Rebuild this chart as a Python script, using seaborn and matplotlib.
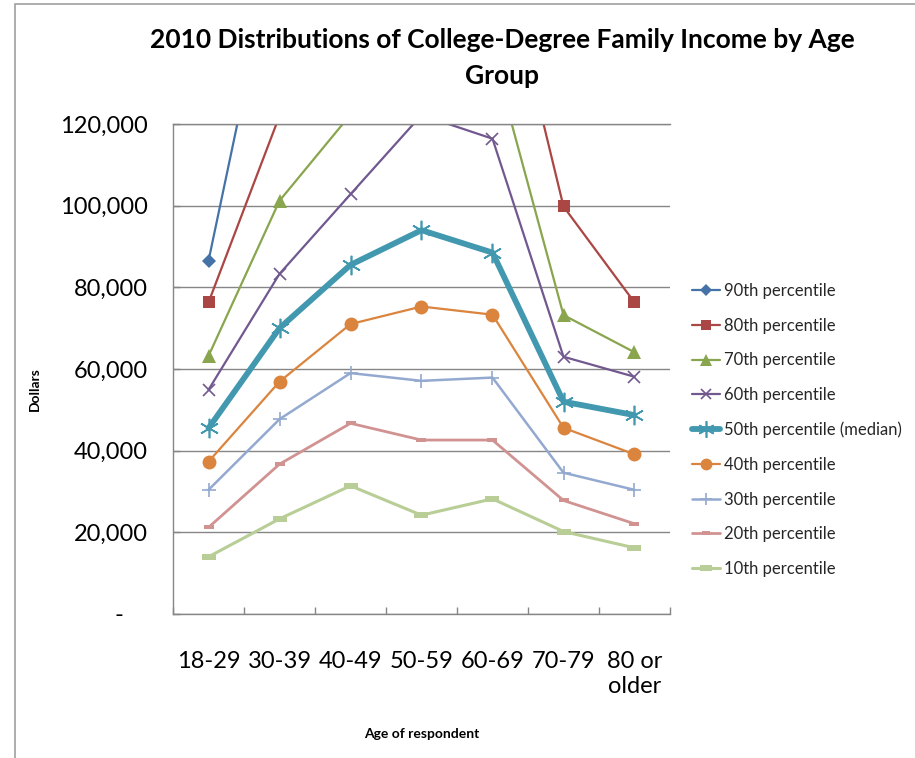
import matplotlib
matplotlib.use("Agg")
import matplotlib.pyplot as plt
from matplotlib.patches import Rectangle
from matplotlib.ticker import FuncFormatter, FixedLocator
import seaborn as sns
import pandas as pd

# Age groups on the horizontal axis
age_groups = ["18-29", "30-39", "40-49", "50-59", "60-69", "70-79", "80 or\nolder"]

# Family income (dollars) at each percentile, by age group
p90 = [86500, 169000, 205000, 225000, 220000, 165000, 135000]
p80 = [76300, 122000, 158000, 175000, 171700, 99800, 76300]
p70 = [63200, 101200, 122300, 145000, 137400, 73200, 64100]
p60 = [54900, 83300, 102800, 122200, 116400, 63000, 58100]
p50 = [45500, 70000, 85500, 94000, 88500, 52000, 48700]
p40 = [37300, 56900, 71000, 75300, 73300, 45600, 39100]
p30 = [30400, 47700, 59000, 57100, 57900, 34600, 30400]
p20 = [21200, 36700, 46700, 42600, 42600, 27800, 22100]
p10 = [14000, 23300, 31400, 24200, 28200, 20200, 16200]

series_names = ["90th percentile", "80th percentile", "70th percentile",
                "60th percentile", "50th percentile (median)", "40th percentile",
                "30th percentile", "20th percentile", "10th percentile"]
series_values = [p90, p80, p70, p60, p50, p40, p30, p20, p10]

rows = []
for name, vals in zip(series_names, series_values):
    for i, v in enumerate(vals):
        rows.append({"series": name, "pos": i, "income": v})
df = pd.DataFrame(rows)

sns.set_theme(style="white")
plt.rcParams["font.family"] = ["Lato", "DejaVu Sans"]

# rectangular "dash" markers used by the two lowest percentiles
bar_marker = [(-1, -0.45), (1, -0.45), (1, 0.45), (-1, 0.45), (-1, -0.45)]

styles = {
    "90th percentile": dict(color="#4572A7", marker="D", ms=7, lw=1.6, mew=0),
    "80th percentile": dict(color="#AA4643", marker="s", ms=9, lw=1.6, mew=0),
    "70th percentile": dict(color="#89A54E", marker="^", ms=10, lw=1.6, mew=0),
    "60th percentile": dict(color="#71588F", marker="x", ms=9, lw=1.6, mew=1.2),
    "50th percentile (median)": dict(color="#4198AF", marker=(6, 2, 0), ms=14, lw=4.2, mew=1.2),
    "40th percentile": dict(color="#DB843D", marker="o", ms=10, lw=1.6, mew=0),
    "30th percentile": dict(color="#93A9CF", marker="+", ms=10, lw=1.8, mew=1.2),
    "20th percentile": dict(color="#D19392", marker=bar_marker, ms=7, lw=2.0, mew=0),
    "10th percentile": dict(color="#B9CD96", marker=bar_marker, ms=10, lw=2.2, mew=0),
}

fig = plt.figure(figsize=(9.15, 7.58), dpi=100)
ax = fig.add_axes([173 / 915, 1 - 614 / 758, (670 - 173) / 915, (614 - 124) / 758])

for name in series_names:
    st = styles[name]
    sub = df[df["series"] == name]
    sns.lineplot(data=sub, x="pos", y="income", ax=ax, color=st["color"],
                 linewidth=st["lw"], marker=st["marker"], markersize=st["ms"],
                 markeredgewidth=st["mew"], markeredgecolor=st["color"],
                 markerfacecolor=st["color"], label=name, legend=False)

ax.set_xlim(-0.5, 6.5)
ax.set_ylim(0, 120000)

# gridlines and axis styling
grid_color = "#868686"
ax.yaxis.set_major_locator(FixedLocator(range(0, 120001, 20000)))
ax.yaxis.grid(True, color=grid_color, linewidth=1.0)
ax.set_axisbelow(True)
ax.spines["right"].set_visible(False)
for side in ["left", "bottom", "top"]:
    ax.spines[side].set_color(grid_color)
    ax.spines[side].set_linewidth(1.0)

ax.yaxis.set_major_formatter(FuncFormatter(lambda v, p: "-    " if v == 0 else f"{int(v):,}"))
ax.tick_params(axis="y", direction="in", length=5, color=grid_color, width=1,
               labelsize=17, pad=18, left=True, labelcolor="#000000")

ax.set_xticks(range(len(age_groups)))
ax.set_xticklabels(age_groups)
ax.xaxis.set_minor_locator(FixedLocator([i + 0.5 for i in range(-1, 7)]))
ax.tick_params(axis="x", which="major", length=0, labelsize=17, pad=27, labelcolor="#000000")
ax.tick_params(axis="x", which="minor", direction="in", length=5, color=grid_color, width=1, bottom=True)

ax.set_xlabel("Age of respondent", fontsize=10, fontweight="bold", color="#000000")
ax.xaxis.set_label_coords(0.5, -0.232)
ax.set_ylabel("Dollars", fontsize=10, fontweight="bold", color="#000000")
ax.yaxis.set_label_coords(-0.265, 0.46)

# chart title
fig.text(502 / 915, 1 - 40 / 758, "2010 Distributions of College-Degree Family Income by Age",
         ha="center", va="center", fontsize=19, fontweight="bold", color="#000000")
fig.text(502 / 915, 1 - 76 / 758, "Group",
         ha="center", va="center", fontsize=19, fontweight="bold", color="#000000")

# legend
handles, labels = ax.get_legend_handles_labels()
leg = fig.legend(handles, labels, loc="upper left", bbox_to_anchor=(692 / 915, 1 - 283 / 758),
                 frameon=False, fontsize=12, handlelength=1.7, handletextpad=0.2,
                 labelspacing=1.12, borderaxespad=0, borderpad=0)
for h in leg.legend_handles:
    h.set_markersize(h.get_markersize() * 0.85)

# outer chart border
fig.add_artist(Rectangle((15 / 915, -0.1), 1.2, 1 - 4 / 758 + 0.1, transform=fig.transFigure,
                         fill=False, edgecolor="#A0A0A0", linewidth=1.2))

fig.savefig("out.png", dpi=100)
